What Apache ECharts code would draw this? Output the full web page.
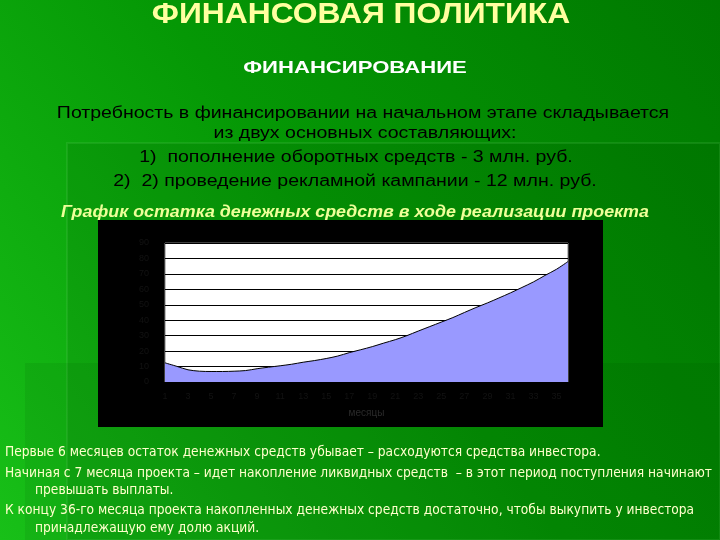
<!DOCTYPE html>
<html>
<head>
<meta charset="utf-8">
<script src="https://cdn.jsdelivr.net/npm/echarts@6/dist/echarts.min.js"></script>
<style>
  html, body { margin: 0; padding: 0; }
  #chart { width: 720px; height: 540px; }
</style>
</head>
<body>
<div id="chart"></div>
<script>
// месяцы проекта
const months = Array.from({ length: 36 }, (_, i) => String(i + 1))
// остаток денежных средств (оценка по картинке)
const balance = [
  12.4, 10.2, 7.9, 7.0, 6.8, 6.8, 7.0, 7.4, 8.6, 9.6,
  10.5, 11.5, 12.8, 13.9, 15.2, 16.8, 19.0, 20.9, 22.9, 25.2,
  27.4, 30.0, 33.0, 35.9, 38.8, 41.7, 45.0, 48.2, 51.2, 54.4,
  57.7, 61.2, 64.8, 69.0, 73.0, 78.0
]
const yTicks = { min: 0, max: 90, interval: 10 }

const headLines = [
  'Потребность в финансировании на начальном этапе складывается',
  'из двух основных составляющих:',
  '1)  пополнение оборотных средств - 3 млн. руб.',
  '2)  2) проведение рекламной кампании - 12 млн. руб.'
]
const footLines = [
  ['Первые 6 месяцев остаток денежных средств убывает – расходуются средства инвестора.', 5],
  ['Начиная с 7 месяца проекта – идет накопление ликвидных средств  – в этот период поступления начинают', 5],
  ['превышать выплаты.', 35],
  ['К концу 36-го месяца проекта накопленных денежных средств достаточно, чтобы выкупить у инвестора', 5],
  ['принадлежащую ему долю акций.', 35]
]

const chart = echarts.init(document.getElementById('chart'))

const sans = '"Liberation Sans", Arial, sans-serif'
const narrow = '"Liberation Sans Narrow", "DejaVu Sans Condensed", sans-serif'

// текст по центру, растянутый по горизонтали как на слайде
const centerText = (text, x, y, font, fill, sx) => ({
  type: 'text', x: x, y: y, scaleX: sx || 1,
  style: { text: text, fill: fill, font: font, align: 'center', verticalAlign: 'middle' }
})

const graphics = [
  // декоративные полупрозрачные блоки шаблона
  { type: 'rect', z: -20, shape: { x: 67, y: 143, width: 653, height: 397 },
    style: { fill: 'rgba(0,50,0,0.10)', stroke: 'rgba(120,220,120,0.15)', lineWidth: 2 } },
  { type: 'rect', z: -19, shape: { x: 25, y: 363, width: 695, height: 177 },
    style: { fill: 'rgba(0,50,0,0.08)' } },
  // чёрная подложка диаграммы
  { type: 'rect', z: -10, shape: { x: 98, y: 220, width: 505, height: 207 },
    style: { fill: '#000' } },
  centerText('ФИНАНСОВАЯ ПОЛИТИКА', 361, 15, 'bold 30px ' + sans, '#ffffa0', 1.06),
  centerText('ФИНАНСИРОВАНИЕ', 355, 68, 'bold 17px ' + sans, '#ffffff', 1.3),
  centerText('График остатка денежных средств в ходе реализации проекта', 355, 212,
    'italic bold 17px ' + sans, '#eeff99', 1.05)
]

const headY = [114, 134, 158, 182]
const headX = [363, 365, 356, 355]
headLines.forEach((t, i) => {
  graphics.push(centerText(t, headX[i], headY[i], '16px ' + sans, '#000', 1.22))
})

const footY = [452, 473, 490, 510, 528]
footLines.forEach(([t, x], i) => {
  graphics.push({ type: 'text', x: x, y: footY[i], scaleX: 0.975, style: {
    text: t, fill: '#ffffcc', font: '14px ' + narrow, align: 'left', verticalAlign: 'middle' } })
})

const option = {
  backgroundColor: {
    type: 'linear', x: 1, y: 0, x2: 0, y2: 1,
    colorStops: [
      { offset: 0, color: '#007800' },
      { offset: 0.5, color: '#059805' },
      { offset: 1, color: '#18c018' }
    ]
  },
  animation: false,
  graphic: graphics,
  grid: {
    left: 165, right: 152, top: 243, bottom: 158,
    show: true, backgroundColor: '#fff', borderColor: '#808080', borderWidth: 1
  },
  xAxis: {
    type: 'category',
    data: months,
    boundaryGap: false,
    axisLine: { show: false },
    axisTick: { show: false },
    axisLabel: { interval: 1, color: '#121212', fontSize: 9, margin: 10 },
    name: 'месяцы',
    nameLocation: 'middle',
    nameGap: 26,
    nameTextStyle: { color: '#2a2a2a', fontSize: 10 }
  },
  yAxis: {
    type: 'value',
    min: yTicks.min,
    max: yTicks.max,
    interval: yTicks.interval,
    axisLine: { show: false },
    axisTick: { show: false },
    axisLabel: { color: '#121212', fontSize: 9, margin: 16 },
    splitLine: { lineStyle: { color: '#000', width: 1 } }
  },
  series: [
    {
      type: 'line',
      data: balance,
      smooth: 0.3,
      symbol: 'none',
      lineStyle: { color: '#000', width: 1 },
      areaStyle: { color: '#9999ff', opacity: 1 }
    }
  ]
}

chart.setOption(option)
</script>
</body>
</html>
